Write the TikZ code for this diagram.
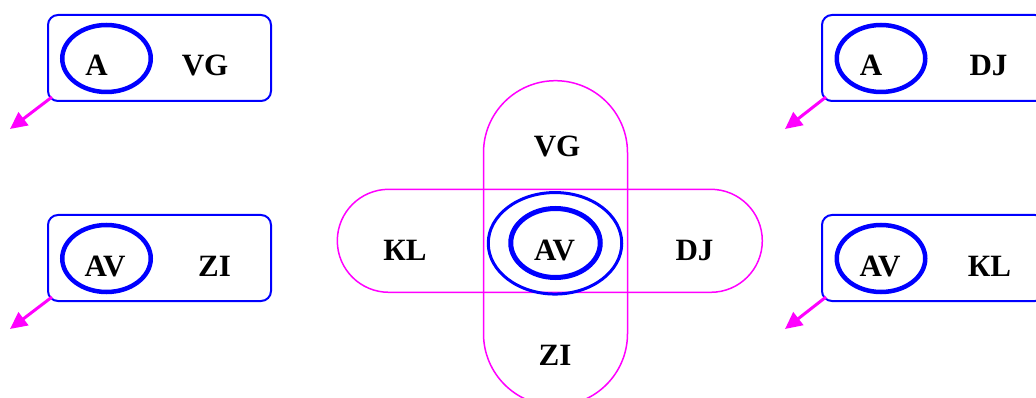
\documentclass[tikz,border=0pt]{standalone}
\usepackage{fontspec}
\setmainfont{Liberation Serif}
\usetikzlibrary{shapes.geometric,arrows.meta,calc}
\definecolor{pblue}{RGB}{0,0,255}
\definecolor{pmag}{RGB}{255,0,255}
\tikzset{
  lbl/.style={font=\fontsize{31}{31}\selectfont\bfseries, anchor=base, inner sep=0pt},
  cardbox/.style={draw=pblue, line width=2pt, rounded corners=10pt, minimum width=223pt, minimum height=86pt, inner sep=0pt},
  smallell/.style={draw=pblue, line width=4.5pt, ellipse, minimum width=88.5pt, minimum height=67pt, inner sep=0pt},
  pointer/.style={draw=pmag, line width=3pt, -{Triangle[length=17pt,width=16pt]}},
  stadium/.style={draw=pmag, line width=1.5pt, inner sep=0pt},
}
\begin{document}
\begin{tikzpicture}[x=1pt,y=-1pt]
\useasboundingbox (0,0) rectangle (1036,398);
\clip (0,0) rectangle (1036,398);
% central stadiums
\node[stadium, minimum width=144pt, minimum height=325pt, rounded corners=72pt] (vst) at (555.5,243.2) {};
\node[stadium, minimum width=425pt, minimum height=103pt, rounded corners=51.5pt] (hst) at (549.8,240.8) {};
\node[draw=pblue, line width=3pt, ellipse, minimum width=133.5pt, minimum height=101.5pt, inner sep=0pt] (oell) at (555,243.3) {};
\node[draw=pblue, line width=5pt, ellipse, minimum width=89.5pt, minimum height=69pt, inner sep=0pt] (iell) at (555.5,243) {};
\node[lbl] (cvg) at (557,156.7) {VG};
\node[lbl] (ckl) at (405,260.7) {КL};
\node[lbl] (cav) at (554.5,260.7) {AV};
\node[lbl] (cdj) at (694.5,260.7) {DJ};
\node[lbl] (czi) at (555,365) {ZI};
% card 1
\node[cardbox] (b1) at (159.5,58) {};
\node[smallell] (e1) at (106.5,58.5) {};
\node[lbl] (t1a) at (96.5,76) {A};
\node[lbl] (t1b) at (205,76) {VG};
\coordinate (p1) at (10,129);
\draw[pointer] ($(b1.south west)+(5,-5)$) -- (p1);
% card 2
\node[cardbox] (b2) at (159.5,258) {};
\node[smallell] (e2) at (106.5,258.5) {};
\node[lbl] (t2a) at (105,276) {AV};
\node[lbl] (t2b) at (214.5,276) {ZI};
\coordinate (p2) at (10,329);
\draw[pointer] ($(b2.south west)+(5,-5)$) -- (p2);
% card 3
\node[cardbox] (b3) at (933.5,58) {};
\node[smallell] (e3) at (881,58.5) {};
\node[lbl] (t3a) at (871,76) {A};
\node[lbl] (t3b) at (988.5,76) {DJ};
\coordinate (p3) at (785,129);
\draw[pointer] ($(b3.south west)+(5,-5)$) -- (p3);
% card 4
\node[cardbox] (b4) at (933.5,258) {};
\node[smallell] (e4) at (881,258.5) {};
\node[lbl] (t4a) at (880,276) {AV};
\node[lbl] (t4b) at (989.5,276) {КL};
\coordinate (p4) at (785,329);
\draw[pointer] ($(b4.south west)+(5,-5)$) -- (p4);
\end{tikzpicture}
\end{document}
